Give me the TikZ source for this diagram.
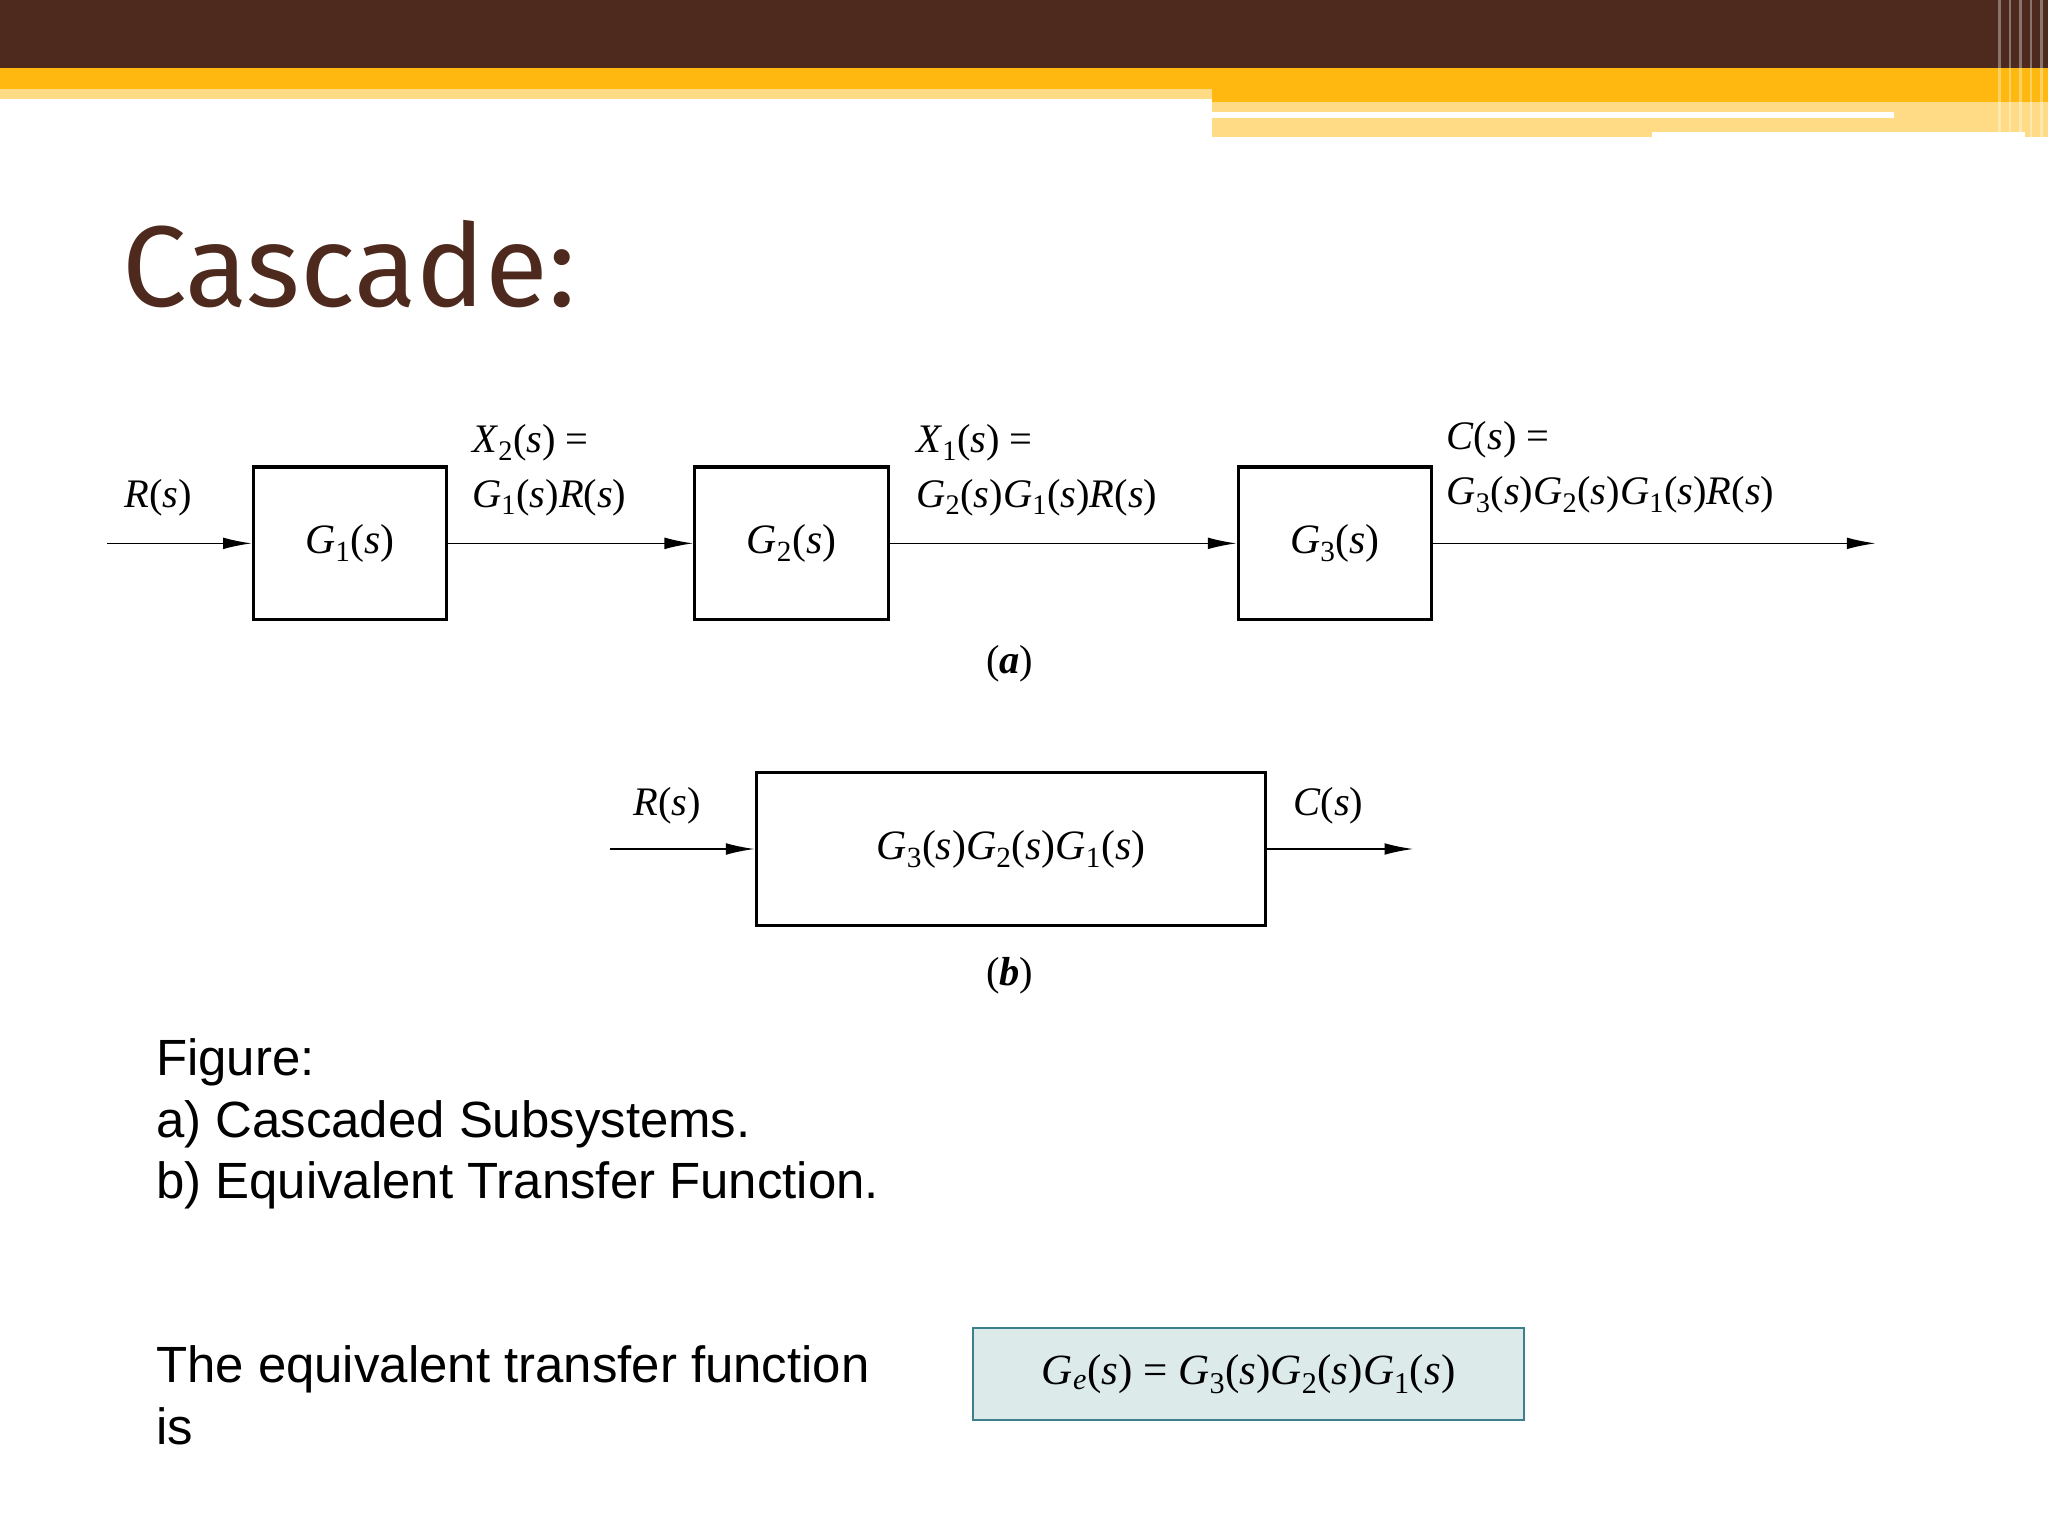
\documentclass[tikz,border=0pt]{standalone}
\usepackage{fontspec}
\setmainfont{Liberation Serif}
\setsansfont{Liberation Sans}
\newfontfamily\titlefont{Fira Sans}
\usetikzlibrary{arrows.meta}
\definecolor{brn}{HTML}{4E2A1E}
\definecolor{org}{HTML}{FFB80F}
\definecolor{lorg}{HTML}{FFDB86}
\definecolor{boxfill}{HTML}{DCEAEA}
\definecolor{boxline}{HTML}{3E7F8C}
\newcommand\Gs[1]{\textit{G}\textsubscript{#1}(\textit{s})}
\newcommand\Rs{\textit{R}(\textit{s})}
\newcommand\Cs{\textit{C}(\textit{s})}
\newcommand\Xs[1]{\textit{X}\textsubscript{#1}(\textit{s})}
\tikzset{blk/.style={draw,line width=2.5pt,minimum width=148pt,minimum height=117pt,font=\fontsize{32}{36}\selectfont},
lbl/.style={font=\fontsize{31}{42}\selectfont,align=left},
sig/.style={line width=1.3pt,-{Latex[length=22pt,width=9pt]}},
body/.style={font=\sffamily\fontsize{39}{47}\selectfont,align=left,anchor=north west}}
\begin{document}
\begin{tikzpicture}[x=1pt,y=-1pt]
\useasboundingbox (0,0) rectangle (1568,1176);
\fill[white] (0,0) rectangle (1568,1176);
% header
\fill[brn] (0,0) rectangle (1568,52);
\fill[org] (0,52) rectangle (1568,68);
\fill[lorg] (0,68) rectangle (928,76);
\fill[org] (928,68) rectangle (1568,78);
\fill[lorg] (928,78) rectangle (1568,105);
\fill[white] (928,86) rectangle (1450,90);
\fill[white] (1265,101) rectangle (1550,106);
\foreach \x in {1530,1538,1546,1554,1562}{\fill[white,opacity=0.35] (\x,0) rectangle (\x+2,106);}
\node[anchor=west,text=brn,font=\titlefont\fontsize{88}{100}\selectfont] (title) at (90,202) {Cascade:};
% (a)
\node[blk] (g1) at (268,416) {\Gs1};
\node[blk] (g2) at (606,416) {\Gs2};
\node[blk] (g3) at (1022,416) {\Gs3};
\coordinate (in) at (82,416);
\coordinate (out) at (1436,416);
\draw[sig] (in) -- (g1);
\draw[sig] (g1) -- (g2);
\draw[sig] (g2) -- (g3);
\draw[sig] (g3) -- (out);
\node[lbl] (rs) at (121,381) {\Rs};
\node[lbl,anchor=west] (x2) at (358,360) {\Xs2 =\\\Gs1\Rs};
\node[lbl,anchor=west] (x1) at (698,360) {\Xs1 =\\\Gs2\Gs1\Rs};
\node[lbl,anchor=west] (cs) at (1104,358) {\Cs{} =\\\Gs3\Gs2\Gs1\Rs};
\node[lbl] (la) at (773,508) {(\textbf{\textit{a}})};
% (b)
\node[blk,minimum width=390pt,minimum height=117pt] (ge) at (774,650) {\Gs3\Gs2\Gs1};
\coordinate (inb) at (467,650);
\coordinate (outb) at (1082,650);
\draw[sig] (inb) -- (ge);
\draw[sig] (ge) -- (outb);
\node[lbl] (rsb) at (511,617) {\Rs};
\node[lbl] (csb) at (1017,617) {\Cs};
\node[lbl] (lb) at (773,747) {(\textbf{\textit{b}})};
% text
\node[body] (fig) at (116,792) {Figure:\\a) Cascaded Subsystems.\\b) Equivalent Transfer Function.};
\node[body] (eq) at (116,1027) {The equivalent transfer function\\is};
\node[draw=boxline,fill=boxfill,line width=1.5pt,minimum width=422pt,minimum height=71pt,font=\fontsize{33}{40}\selectfont] (ge2) at (956,1052) {\textit{G}\textsubscript{\textit{e}}(\textit{s}) = \Gs3\Gs2\Gs1};
\end{tikzpicture}
\end{document}
